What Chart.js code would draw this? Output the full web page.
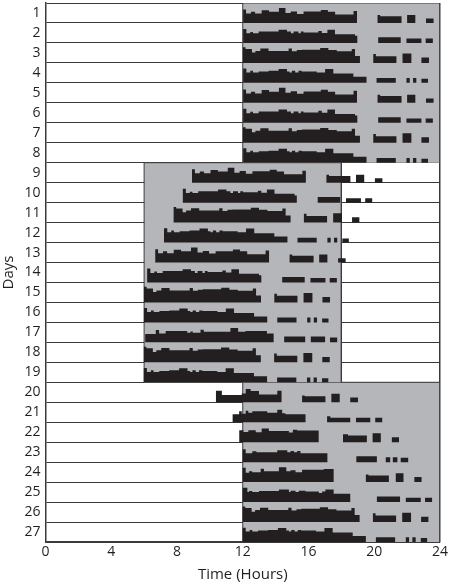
<!DOCTYPE html>
<html><head><meta charset="utf-8">
<script src="https://cdn.jsdelivr.net/npm/chart.js@4/dist/chart.umd.min.js"></script>
<style>html,body{margin:0;padding:0;background:#fff}#wrap{width:450px;height:584px}</style>
</head><body><div id="wrap"><canvas id="c" width="450" height="584"></canvas></div>
<script>
// ---- data ----
const dayLabels = ['1','2','3','4','5','6','7','8','9','10','11','12','13','14','15','16','17','18','19','20','21','22','23','24','25','26','27'];
const xTicks = [0, 4, 8, 12, 16, 20, 24];
// dark phase blocks: [firstDay, lastDay, startHour, endHour]
const darkPhases = [[1, 8, 12, 24], [9, 19, 6, 18], [20, 27, 12, 24]];
// activity onset (hours) for each day
const dayOnsets = [12.02, 12.02, 12.0, 12.02, 12.02, 12.02, 12.0, 12.02, 8.91, 8.34, 7.78, 7.21, 6.67, 6.18, 5.98, 5.98, 6.06, 5.97, 5.97, 10.36, 11.37, 11.78, 11.98, 11.98, 11.98, 11.98, 11.98];
// which activity profile each day shows
const dayProfiles = ['A','B','C','D','A','B','C','D','A','B','C','D','A','B','C','D','E','C','D','P20','P21','P22','P23','P24','P25','C','D'];
// activity profiles: [hours after onset, activity level (fraction of row)], level held until next point
const profileA = [[0,.67],[.18,.47],[.48,.56],[.73,.47],[1.13,.64],[1.58,.56],[2.18,.75],[2.58,.5],[2.9,.58],[3.28,.45],[3.68,.57],[4.73,.65],[5.16,.56],[5.6,.42],[6.72,.6],[6.93,0],[8.18,.4],[8.34,.34],[9.64,0],[9.98,.4],[10.48,0],[11.13,.22],[11.6,0]];
const profileB = [[0,.7],[.2,.48],[.44,.55],[.6,.48],[.95,.57],[2.16,.66],[2.67,.57],[2.91,.48],[3.07,.57],[3.37,.48],[3.51,.57],[3.68,.52],[4.58,.6],[4.79,.5],[5.13,.66],[5.59,.44],[6.81,.36],[6.95,0],[8.22,.28],[9.59,0],[9.94,.22],[10.85,0],[11.11,.22],[11.55,0]];
const profileC = [[0,.78],[.17,.7],[.56,.52],[.77,.6],[1.07,.72],[1.57,.6],[2.79,.72],[2.99,.58],[3.29,.64],[3.59,.66],[4.71,.74],[5.21,.64],[5.72,.58],[6.63,.7],[6.83,.35],[7.13,0],[7.94,.44],[8.1,.33],[9.35,0],[9.72,.47],[10.26,0],[10.87,.27],[11.33,0]];
const profileD = [[0,.72],[.2,.52],[.44,.6],[.6,.52],[.95,.57],[1.55,.6],[2.16,.7],[2.67,.57],[2.83,.52],[2.97,.6],[3.17,.52],[3.37,.6],[3.57,.57],[4.48,.52],[4.99,.7],[5.49,.47],[6.71,.3],[7.51,0],[8.12,.24],[9.29,0],[9.94,.24],[10.14,0],[10.34,.24],[10.54,0],[10.85,.2],[11.25,0]];
const profileE = [[0,.42],[.65,.62],[.85,.45],[1.25,.57],[2.56,.48],[2.76,.55],[2.9,.48],[3.37,.63],[3.57,.53],[5.19,.72],[5.66,.53],[6.1,.57],[7.41,.45],[7.82,0],[8.46,.3],[9.74,0],[10.08,.3],[10.95,0],[11.25,.25],[11.7,0]];
const profile20 = [[0,.58],[.37,.36],[1.58,.44],[1.82,.66],[2.12,.56],[2.63,.39],[3.74,.58],[4.0,0],[5.25,.34],[5.41,.3],[6.67,0],[7.03,.42],[7.54,0],[8.18,.24],[8.65,0]];
const profile21 = [[0,.4],[.41,.55],[.57,.43],[.81,.57],[.97,.48],[1.21,.55],[2.12,.48],[2.73,.63],[3.03,.45],[3.23,.4],[4.45,0],[5.76,.3],[5.96,.22],[7.17,0],[7.52,.22],[8.39,0],[8.69,.22],[9.13,0]];
const profile22 = [[0,.6],[.26,.51],[.56,.6],[1.01,.5],[1.37,.69],[1.81,.56],[3.03,.48],[3.27,.62],[3.53,.58],[4.84,0],[6.32,.4],[6.62,.33],[7.77,0],[8.12,.45],[8.62,0],[9.29,.25],[9.73,0]];
const profile23 = [[0,.65],[.2,.45],[.6,.55],[.85,.5],[2.12,.6],[2.73,.5],[2.93,.56],[3.13,.5],[3.33,.56],[3.53,.45],[5.17,0],[6.93,.3],[8.18,0],[8.72,.25],[8.99,0],[9.15,.25],[9.43,0],[9.63,.22],[10.1,0]];
const profile24 = [[0,.72],[.2,.47],[.4,.55],[.6,.5],[1.11,.67],[1.31,.55],[2.22,.75],[2.67,.55],[2.93,.6],[3.23,.5],[3.63,.62],[4.95,.66],[5.55,0],[7.51,.38],[7.67,.33],[8.91,0],[9.33,.45],[9.8,0],[10.46,.25],[10.91,0]];
const profile25 = [[0,.72],[.3,.5],[.4,.55],[.6,.5],[1.01,.55],[2.22,.63],[2.83,.5],[2.93,.57],[3.23,.5],[3.43,.57],[3.84,.53],[4.65,.45],[4.85,.53],[5.05,.63],[5.55,.42],[6.56,0],[8.18,.28],[9.59,0],[9.94,.22],[10.85,0],[11.11,.22],[11.55,0]];

// ---- styling ----
const ink = '#231f20';
const lineCol = '#3a3a3a';
const gray = '#b5b6b9';
const fam = '"Open Sans", "DejaVu Sans", sans-serif';

const profiles = {A: profileA, B: profileB, C: profileC, D: profileD, E: profileE,
  P20: profile20, P21: profile21, P22: profile22, P23: profile23, P24: profile24, P25: profile25};

const phaseSets = darkPhases.map(([d0, d1, t0, t1]) => ({
  type: 'line',
  data: [{x: t0, y: d1}, {x: t0, y: d0 - 1}, {x: t1, y: d0 - 1}, {x: t1, y: d1}],
  fill: {value: d1},
  backgroundColor: gray,
  borderColor: lineCol,
  borderWidth: 1,
  pointRadius: 0,
  tension: 0,
  order: 2
}));

const activitySets = dayLabels.map((lab, i) => {
  const base = i + 1;
  const prof = profiles[dayProfiles[i]];
  return {
    type: 'line',
    data: prof.map(([t, lv]) => ({x: dayOnsets[i] + t, y: base - lv})),
    stepped: 'before',
    fill: {value: base},
    backgroundColor: ink,
    borderColor: 'rgba(0,0,0,0)',
    borderWidth: 0,
    pointRadius: 0,
    order: 1
  };
});

new Chart(document.getElementById('c'), {
  type: 'line',
  data: {datasets: [...phaseSets, ...activitySets]},
  options: {
    responsive: false,
    animation: false,
    events: [],
    layout: {padding: {top: 3, right: 8.3, bottom: 0, left: 0}},
    plugins: {legend: {display: false}, tooltip: {enabled: false}},
    scales: {
      x: {
        type: 'linear', min: 0, max: 24, z: 1,
        afterBuildTicks: s => { s.ticks = xTicks.map(v => ({value: v})); },
        ticks: {padding: 2, color: ink, font: {family: fam, size: 14}, maxRotation: 0, autoSkip: false},
        grid: {drawTicks: false, lineWidth: 1.5, color: c => (c.tick && c.tick.value === 24) ? lineCol : 'rgba(0,0,0,0)'},
        border: {display: true, color: lineCol, width: 1.5},
        title: {display: true, text: 'Time (Hours)', color: ink, font: {family: fam, size: 15}, padding: {top: 0, bottom: 0}},
        afterFit: s => { s.height = 42; }
      },
      y: {
        type: 'linear', min: 0, max: 27, reverse: true, z: 1, position: 'left',
        afterBuildTicks: s => { s.ticks = dayLabels.map((_, i) => ({value: i + 0.5})); },
        ticks: {callback: v => dayLabels[Math.floor(v)], padding: 5, color: ink, font: {family: fam, size: 14}, autoSkip: false},
        grid: {offset: true, drawTicks: false, color: lineCol, lineWidth: 1},
        border: {display: true, color: lineCol, width: 1.5},
        title: {display: true, text: 'Days', color: ink, font: {family: fam, size: 15}, padding: 0},
        afterFit: s => { s.width = 45.5; s.paddingTop = 0; s.paddingBottom = 0; }
      }
    }
  }
});
</script></body></html>
